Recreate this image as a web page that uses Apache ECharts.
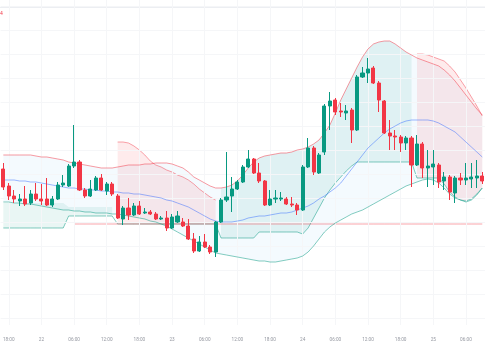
<!DOCTYPE html>
<html>
<head>
<meta charset="utf-8">
<script src="https://cdn.jsdelivr.net/npm/echarts@6/dist/echarts.min.js"></script>
<style>html,body{margin:0;padding:0;background:#fff;}#c{width:485px;height:360px;}</style>
</head>
<body>
<div id="c"></div>
<script>
// Hourly bars starting 21st 17:00
const startDay = 21, startHour = 17;

// [open, close, low, high]
const ohlc = [
[231,213,210,237],[214,204,200,217],[204,201,197,210],[199,201,194,206],[201,196,194,214],
[197,206,195,210],[206,201,199,217],[201,199,195,216],[201,195,194,222],[195,201,193,204],
[201,215,200,218],[215,217,213,225],[214,234,213,236],[234,238,232,275],[238,210,209,240],
[210,204,202,212],[204,211,203,220],[210,222,209,224],[222,210,209,226],[209,216,205,218],
[216,206,204,218],[204,182,181,206],[181,192,175,194],[192,185,180,202],[185,194,184,197],
[194,186,185,199],[187,188,186,192],[188,186,185,190],[186,181,180,188],[181,182,180,184],
[182,172,169,189],[172,183,171,186],[178,184,177,189],[178,174,173,182],[174,161,160,181],
[161,149,147,167],[149,158,148,164],[158,153,152,166],[153,148,146,155],[148,178,143,179],
[178,200,177,202],[200,203,198,248],[204,211,188,223],[211,218,210,220],[218,233,217,235],
[233,241,232,250],[241,227,226,242],[227,219,217,237],[219,195,194,220],[195,201,194,210],
[201,202,197,210],[201,202,199,208],[201,196,195,203],[196,195,193,203],[195,190,185,197],
[190,233,189,235],[233,252,232,262],[252,228,225,254],[227,245,226,247],[248,294,245,296],
[294,299,270,308],[300,288,285,302],[289,288,283,297],[287,289,280,295],[290,270,257,292],
[270,323,269,325],[323,327,322,333],[327,331,317,342],[332,317,316,334],[317,300,288,319],
[299,267,266,300],[267,264,250,280],[264,263,250,270],[263,257,248,265],[257,262,250,264],
[262,235,213,264],[235,256,234,265],[256,232,222,258],[232,234,213,250],[233,236,215,250],
[235,218,212,237],[219,223,210,228],[223,208,200,225],[207,222,197,224],[222,220,215,227],
[220,222,215,237],[221,223,212,237],[222,224,212,240],[224,219,216,228]
];

const bbUpper = [
245,245,245,245,245,245,244,243,243,242,241,240,
238,237,236,235,234,233,232,232,232,
233,234,235,235,235,236,236,237,237,237,
236,234,232,228,223,220,217,214,212,
212,213,215,219,225,232,238,242,244,245,
246,247,247,248,250,251,253,256,260,
267,275,287,300,311,322,333,343,351,356,
358,359,359,356,352,348,345,342,340,338,
336,334,330,325,319,312,305,298,291,285
];
const bbBasis = [
220,220,220,219,219,218,218,217,216,215,214,213,
212,212,211,211,210,210,209,209,208,
208,207,207,206,206,205,204,203,202,200,
199,197,195,193,190,187,184,181,179,
178,178,178,179,180,182,183,184,184,185,
186,187,187,188,190,192,194,197,201,
204,208,212,217,224,231,238,245,252,257,
262,267,271,274,277,279,280,280,280,280,
279,277,274,271,268,263,258,253,248,243
];
const bbLower = [
198,198,197,197,196,196,195,194,193,192,191,190,
190,189,189,188,188,187,187,187,186,
186,185,184,183,182,181,179,178,176,174,
171,168,165,162,159,156,153,150,147,
146,145,144,143,142,141,140,139,139,138,
138,139,140,141,142,144,148,154,161,
168,173,177,180,183,186,188,190,193,196,
199,202,205,208,211,214,216,218,220,221,
220,217,212,206,202,200,198,200,205,212
];
const cloudTop = [
197,197,197,197,197,197,197,197,197,197,197,197,
193,193,193,193,193,193,193,193,193,
258,258,257,254,250,245,239,235,233,230,228,225,223,220,216,211,207,203,200,
212,213,215,219,225,232,238,242,244,245,246,247,247,248,250,
251,253,256,260,267,275,287,300,311,322,333,343,351,356,358,359,359,356,352,348,345,
346,346,345,343,341,339,334,328,320,312,303,294,284
];
const cloudBot = [
172,172,172,172,172,172,172,172,172,172,172,172,
184,184,184,184,184,184,184,184,184,
176,176,176,176,176,176,176,176,176,176,176,176,176,176,176,176,176,176,176,
162,162,162,162,162,162,162,
168,168,168,168,168,168,168,168,
166,172,182,192,202,210,217,223,229,234,
238,238,238,238,238,238,238,238,238,238,238,
222,222,222,222,222,216,208,203,200,199,201,206,212
];
// 1 = bullish (green) cloud, 0 = bearish (red) cloud
const cloudBull = [
1,1,1,1,1,1,1,1,1,1,1,1,1,1,1,1,1,1,1,1,1,
0,0,0,0,0,0,0,0,0,0,0,0,0,0,0,0,0,0,0,
1,1,1,1,1,1,1,1,1,1,1,1,1,1,1,1,1,1,1,1,1,1,1,1,1,1,1,1,1,1,1,1,1,1,1,1,
0,0,0,0,0,0,0,0,0,0,0,0,0
];
const refLevel = 176;      // horizontal level line
const refStartIndex = 13;  // bar where the level line begins
const gridLevels = [394,370,346,322,298,274,250,226,202,178,154,130,106,82];

const N = ohlc.length;
const times = ohlc.map((_, i) => { const t = startHour + i; return { day: startDay + Math.floor(t / 24), hour: t % 24 }; });
const categories = times.map(t => t.day + ' ' + String(t.hour).padStart(2, '0') + ':00');
const isMajor = i => times[i].hour % 6 === 0;
const labelOf = i => times[i].hour === 0 ? String(times[i].day) : String(times[i].hour).padStart(2, '0') + ':00';

const UP = '#089981', DOWN = '#F23645';

const chart = echarts.init(document.getElementById('c'), null, { renderer: 'canvas' });

const vLines = categories.map((c, i) => i).filter(isMajor).map(i => ({ xAxis: categories[i] }));
const hLines = gridLevels.map(v => ({ yAxis: v }));

function regions() {
  const out = [];
  let s = 0;
  for (let i = 1; i <= N; i++) {
    if (i === N || cloudBull[i] !== cloudBull[s]) { out.push([s, i - 1, cloudBull[s]]); s = i; }
  }
  return out;
}

chart.setOption({
  animation: false,
  backgroundColor: '#ffffff',
  grid: { left: -2.25, right: -2.25, top: 0, bottom: 35 },
  xAxis: {
    type: 'category', data: categories, boundaryGap: true,
    axisLine: { show: false }, axisTick: { show: false }, splitLine: { show: false },
    axisLabel: {
      interval: (i) => isMajor(i), formatter: (v, i) => labelOf(i),
      fontSize: 4.7, color: '#9598a1', margin: 12, fontFamily: 'Roboto'
    }
  },
  yAxis: { type: 'value', min: 75, max: 400, show: false, splitLine: { show: false } },
  series: [
    {
      type: 'custom', name: 'bbFill', silent: true, z: 1, data: [[0, 200]],
      renderItem: (params, api) => {
        const pts = [];
        for (let i = 0; i < N; i++) pts.push(api.coord([i, bbUpper[i]]));
        for (let i = N - 1; i >= 0; i--) pts.push(api.coord([i, bbLower[i]]));
        return { type: 'polygon', shape: { points: pts }, style: { fill: 'rgba(33,150,243,0.05)' } };
      }
    },
    {
      type: 'custom', name: 'cloudFill', silent: true, z: 2, data: [[0, 200]],
      renderItem: (params, api) => {
        const children = regions().map(([a, b, bull]) => {
          const pts = [];
          for (let i = a; i <= b; i++) pts.push(api.coord([i, cloudTop[i]]));
          for (let i = b; i >= a; i--) pts.push(api.coord([i, cloudBot[i]]));
          return { type: 'polygon', shape: { points: pts }, style: { fill: bull ? 'rgba(8,153,129,0.09)' : 'rgba(242,54,69,0.10)' } };
        });
        return { type: 'group', children };
      }
    },
    {
      type: 'line', name: 'grid', data: [], silent: true, z: 3,
      markLine: {
        silent: true, symbol: 'none', label: { show: false },
        lineStyle: { color: '#f5f6f8', width: 1, type: 'solid' },
        data: vLines.concat(hLines)
      }
    },
    {
      type: 'line', name: 'cloudTopLine', data: cloudTop.map((v, i) => cloudBull[i] ? null : v),
      showSymbol: false, silent: true, z: 4, connectNulls: false,
      lineStyle: { color: 'rgba(242,54,69,0.45)', width: 1 }
    },
    {
      type: 'line', name: 'cloudBotLine', data: cloudBot,
      showSymbol: false, silent: true, z: 4,
      lineStyle: { color: 'rgba(8,153,129,0.5)', width: 1 }
    },
    {
      type: 'line', name: 'level', data: categories.map((c, i) => i >= refStartIndex ? refLevel : null),
      showSymbol: false, silent: true, z: 4,
      lineStyle: { color: 'rgba(242,54,69,0.45)', width: 1 }
    },
    {
      type: 'line', name: 'bbUpper', data: bbUpper, showSymbol: false, silent: true, z: 5,
      lineStyle: { color: 'rgba(242,54,69,0.5)', width: 1 }
    },
    {
      type: 'line', name: 'bbBasis', data: bbBasis, showSymbol: false, silent: true, z: 5,
      lineStyle: { color: 'rgba(41,98,255,0.45)', width: 1 }
    },
    {
      type: 'line', name: 'bbLower', data: bbLower, showSymbol: false, silent: true, z: 5,
      lineStyle: { color: 'rgba(8,153,129,0.5)', width: 1 }
    },
    {
      type: 'candlestick', name: 'price', data: ohlc, z: 10, barWidth: 3.6,
      itemStyle: { color: UP, color0: DOWN, borderColor: UP, borderColor0: DOWN, borderWidth: 1 }
    }
  ],
  graphic: [
    { type: 'line', shape: { x1: 0, y1: 7.5, x2: 485, y2: 7.5 }, style: { stroke: '#eceef2', lineWidth: 1 }, silent: true },
    { type: 'text', left: 0, top: 11, style: { text: '4', fontSize: 5, fill: '#F23645', fontFamily: 'Roboto' }, silent: true }
  ]
});
</script>
</body>
</html>
